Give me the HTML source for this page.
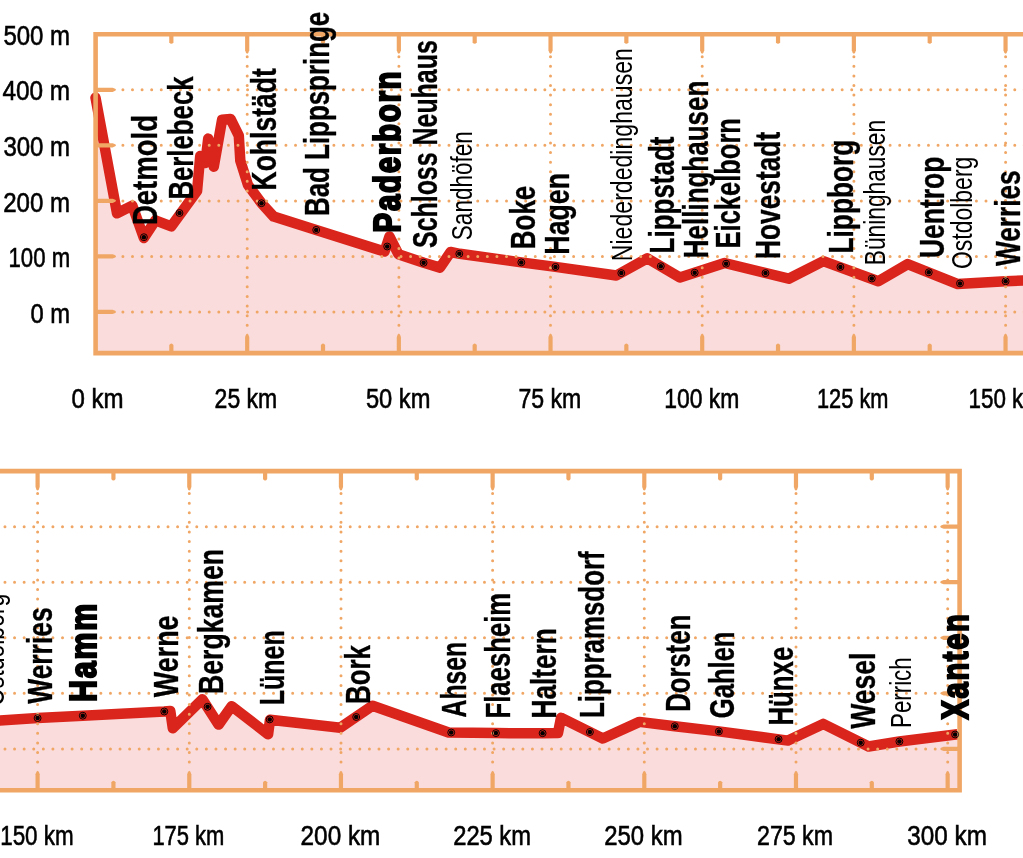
<!DOCTYPE html>
<html lang="de"><head><meta charset="utf-8"><title>Höhenprofil Römer-Lippe-Route</title>
<style>
html,body{margin:0;padding:0;background:#fff;}
body{width:1023px;height:858px;overflow:hidden;}
svg{display:block;}
text{font-family:"Liberation Sans",sans-serif;fill:#000;}
.ax{font-size:28.4px;stroke:#000;stroke-width:.6px;}
.r{font-size:34.8px;font-weight:bold;stroke:#000;stroke-width:0.35px;stroke-linejoin:round;}
.h{font-size:37.8px;font-weight:bold;stroke:#000;stroke-width:2.2px;stroke-linejoin:miter;letter-spacing:2.2px;vector-effect:non-scaling-stroke;}
.l{font-size:28.6px;font-weight:normal;}
.grid{stroke:#f0a766;stroke-width:3;stroke-linecap:round;stroke-dasharray:0 9.59;fill:none;}
.frame{stroke:#f0a766;stroke-width:4.6;fill:none;stroke-linejoin:miter;}
.ticks{fill:#f0a766;}
.curve{stroke:#da251c;stroke-width:10.5;fill:none;stroke-linejoin:round;stroke-linecap:round;}
.area{fill:#fadcdc;}
.mk circle.o{fill:none;stroke:#000;stroke-width:0.95;}
.mk circle.i{fill:#000;}
</style></head><body>
<svg width="1023" height="858" viewBox="0 0 1023 858">
<rect width="1023" height="858" fill="#fff"/>
<defs>
<clipPath id="ct"><rect x="95.6" y="34.2" width="937.4" height="318.90000000000003"/></clipPath>
<clipPath id="cb"><rect x="-10" y="471.1" width="969.6" height="319.1"/></clipPath>
<clipPath id="cbl"><rect x="-10" y="471.1" width="971.6" height="319.1"/></clipPath>
</defs>

<!-- top chart: 0-150 km -->
<polygon class="area" clip-path="url(#ct)" points="95.5,97.6 117.0,213.3 132.3,205.6 143.9,238.0 155.4,220.4 171.3,226.3 197.1,190.9 200.2,156.1 205.3,163.0 208.2,138.6 213.8,166.7 222.1,119.7 230.5,118.9 238.8,135.6 240.3,160.6 247.9,184.8 261.5,203.2 273.7,216.6 316.2,229.9 384.5,251.6 389.5,236.5 398.4,254.2 423.8,262.8 440.0,267.6 450.6,252.0 459.8,253.8 521.3,262.4 555.5,266.9 616.3,275.5 647.2,258.3 679.9,277.6 724.6,263.0 788.7,278.7 823.4,261.1 878.3,281.3 907.7,264.1 957.8,284.1 1005.6,281.3 1040.0,279.6 1040,353.1 95.6,353.1"/>
<polyline class="curve" points="95.5,97.6 117.0,213.3 132.3,205.6 143.9,238.0 155.4,220.4 171.3,226.3 197.1,190.9 200.2,156.1 205.3,163.0 208.2,138.6 213.8,166.7 222.1,119.7 230.5,118.9 238.8,135.6 240.3,160.6 247.9,184.8 261.5,203.2 273.7,216.6 316.2,229.9 384.5,251.6 389.5,236.5 398.4,254.2 423.8,262.8 440.0,267.6 450.6,252.0 459.8,253.8 521.3,262.4 555.5,266.9 616.3,275.5 647.2,258.3 679.9,277.6 724.6,263.0 788.7,278.7 823.4,261.1 878.3,281.3 907.7,264.1 957.8,284.1 1005.6,281.3 1040.0,279.6"/>
<g class="grid"><path d="M122.9,311.9 H1030"/><path d="M122.9,256.4 H1030"/><path d="M122.9,200.9 H1030"/><path d="M122.9,145.3 H1030"/><path d="M122.9,89.8 H1030"/><path d="M247.2,56.7 V333.1"/><path d="M398.9,56.7 V333.1"/><path d="M550.5,56.7 V333.1"/><path d="M702.2,56.7 V333.1"/><path d="M853.9,56.7 V333.1"/><path d="M1005.6,56.7 V333.1"/></g>
<path class="frame" d="M1030,34.2 H95.6 V353.1 H1030"/>
<g class="ticks"><path d="M95.60,309.80 L112.60,309.80 Q116.10,310.85 116.10,311.90 Q116.10,312.95 112.60,314.00 L95.60,314.00 Z"/><path d="M95.60,254.28 L112.60,254.28 Q116.10,255.33 116.10,256.38 Q116.10,257.43 112.60,258.48 L95.60,258.48 Z"/><path d="M95.60,198.76 L112.60,198.76 Q116.10,199.81 116.10,200.86 Q116.10,201.91 112.60,202.96 L95.60,202.96 Z"/><path d="M95.60,143.24 L112.60,143.24 Q116.10,144.29 116.10,145.34 Q116.10,146.39 112.60,147.44 L95.60,147.44 Z"/><path d="M95.60,87.72 L112.60,87.72 Q116.10,88.77 116.10,89.82 Q116.10,90.87 112.60,91.92 L95.60,91.92 Z"/><path d="M169.24,34.20 L169.24,42.20 Q170.08,43.70 171.34,43.70 Q172.60,43.70 173.44,42.20 L173.44,34.20 Z"/><path d="M169.24,353.10 L169.24,345.10 Q170.08,343.60 171.34,343.60 Q172.60,343.60 173.44,345.10 L173.44,353.10 Z"/><path d="M245.08,34.20 L245.08,50.20 Q245.92,53.70 247.18,53.70 Q248.44,53.70 249.28,50.20 L249.28,34.20 Z"/><path d="M245.08,353.10 L245.08,337.10 Q245.92,333.60 247.18,333.60 Q248.44,333.60 249.28,337.10 L249.28,353.10 Z"/><path d="M320.91,34.20 L320.91,42.20 Q321.75,43.70 323.01,43.70 Q324.27,43.70 325.11,42.20 L325.11,34.20 Z"/><path d="M320.91,353.10 L320.91,345.10 Q321.75,343.60 323.01,343.60 Q324.27,343.60 325.11,345.10 L325.11,353.10 Z"/><path d="M396.75,34.20 L396.75,50.20 Q397.59,53.70 398.85,53.70 Q400.11,53.70 400.95,50.20 L400.95,34.20 Z"/><path d="M396.75,353.10 L396.75,337.10 Q397.59,333.60 398.85,333.60 Q400.11,333.60 400.95,337.10 L400.95,353.10 Z"/><path d="M472.59,34.20 L472.59,42.20 Q473.43,43.70 474.69,43.70 Q475.95,43.70 476.79,42.20 L476.79,34.20 Z"/><path d="M472.59,353.10 L472.59,345.10 Q473.43,343.60 474.69,343.60 Q475.95,343.60 476.79,345.10 L476.79,353.10 Z"/><path d="M548.43,34.20 L548.43,50.20 Q549.27,53.70 550.53,53.70 Q551.79,53.70 552.63,50.20 L552.63,34.20 Z"/><path d="M548.43,353.10 L548.43,337.10 Q549.27,333.60 550.53,333.60 Q551.79,333.60 552.63,337.10 L552.63,353.10 Z"/><path d="M624.26,34.20 L624.26,42.20 Q625.10,43.70 626.36,43.70 Q627.62,43.70 628.46,42.20 L628.46,34.20 Z"/><path d="M624.26,353.10 L624.26,345.10 Q625.10,343.60 626.36,343.60 Q627.62,343.60 628.46,345.10 L628.46,353.10 Z"/><path d="M700.10,34.20 L700.10,50.20 Q700.94,53.70 702.20,53.70 Q703.46,53.70 704.30,50.20 L704.30,34.20 Z"/><path d="M700.10,353.10 L700.10,337.10 Q700.94,333.60 702.20,333.60 Q703.46,333.60 704.30,337.10 L704.30,353.10 Z"/><path d="M775.94,34.20 L775.94,42.20 Q776.78,43.70 778.04,43.70 Q779.30,43.70 780.14,42.20 L780.14,34.20 Z"/><path d="M775.94,353.10 L775.94,345.10 Q776.78,343.60 778.04,343.60 Q779.30,343.60 780.14,345.10 L780.14,353.10 Z"/><path d="M851.77,34.20 L851.77,50.20 Q852.62,53.70 853.88,53.70 Q855.13,53.70 855.98,50.20 L855.98,34.20 Z"/><path d="M851.77,353.10 L851.77,337.10 Q852.62,333.60 853.88,333.60 Q855.13,333.60 855.98,337.10 L855.98,353.10 Z"/><path d="M927.61,34.20 L927.61,42.20 Q928.45,43.70 929.71,43.70 Q930.97,43.70 931.81,42.20 L931.81,34.20 Z"/><path d="M927.61,353.10 L927.61,345.10 Q928.45,343.60 929.71,343.60 Q930.97,343.60 931.81,345.10 L931.81,353.10 Z"/><path d="M1003.45,34.20 L1003.45,50.20 Q1004.29,53.70 1005.55,53.70 Q1006.81,53.70 1007.65,50.20 L1007.65,34.20 Z"/><path d="M1003.45,353.10 L1003.45,337.10 Q1004.29,333.60 1005.55,333.60 Q1006.81,333.60 1007.65,337.10 L1007.65,353.10 Z"/></g>
<!-- bottom chart: 150-300 km -->
<polygon class="area" clip-path="url(#cb)" points="-20.0,721.8 37.6,718.1 82.8,715.7 164.3,711.5 170.3,710.9 172.8,728.2 202.4,699.3 218.6,724.6 231.6,706.2 268.1,734.3 270.0,719.8 340.3,727.7 372.6,705.7 448.6,732.5 495.9,733.1 542.6,733.2 558.0,733.1 561.0,717.8 602.8,738.5 639.4,721.9 674.8,726.2 718.9,731.4 788.0,740.6 823.2,723.9 868.6,746.5 899.4,741.5 957.5,734.3 959.6,790.2 -20,790.2"/>
<polyline class="curve" clip-path="url(#cbl)" style="stroke-linecap:butt" points="-20.0,721.8 37.6,718.1 82.8,715.7 164.3,711.5 170.3,710.9 172.8,728.2 202.4,699.3 218.6,724.6 231.6,706.2 268.1,734.3 270.0,719.8 340.3,727.7 372.6,705.7 448.6,732.5 495.9,733.1 542.6,733.2 558.0,733.1 561.0,717.8 602.8,738.5 639.4,721.9 674.8,726.2 718.9,731.4 788.0,740.6 823.2,723.9 868.6,746.5 899.4,741.5 957.5,734.3"/>
<g class="grid"><path d="M935.2,748.9 H-10"/><path d="M935.2,693.3 H-10"/><path d="M935.2,637.8 H-10"/><path d="M935.2,582.2 H-10"/><path d="M935.2,526.7 H-10"/><path d="M37.6,493.6 V770.2"/><path d="M189.3,493.6 V770.2"/><path d="M341.0,493.6 V770.2"/><path d="M492.6,493.6 V770.2"/><path d="M644.3,493.6 V770.2"/><path d="M796.0,493.6 V770.2"/><path d="M947.7,493.6 V770.2"/></g>
<path class="frame" d="M-10,471.1 H959.6 V790.2 H-10"/>
<g class="ticks"><path d="M959.60,746.80 L943.60,746.80 Q940.10,747.85 940.10,748.90 Q940.10,749.95 943.60,751.00 L959.60,751.00 Z"/><path d="M959.60,691.24 L943.60,691.24 Q940.10,692.29 940.10,693.34 Q940.10,694.39 943.60,695.44 L959.60,695.44 Z"/><path d="M959.60,635.68 L943.60,635.68 Q940.10,636.73 940.10,637.78 Q940.10,638.83 943.60,639.88 L959.60,639.88 Z"/><path d="M959.60,580.12 L943.60,580.12 Q940.10,581.17 940.10,582.22 Q940.10,583.27 943.60,584.32 L959.60,584.32 Z"/><path d="M959.60,524.56 L943.60,524.56 Q940.10,525.61 940.10,526.66 Q940.10,527.71 943.60,528.76 L959.60,528.76 Z"/><path d="M35.50,471.10 L35.50,487.10 Q36.34,490.60 37.60,490.60 Q38.86,490.60 39.70,487.10 L39.70,471.10 Z"/><path d="M35.50,790.20 L35.50,774.20 Q36.34,770.70 37.60,770.70 Q38.86,770.70 39.70,774.20 L39.70,790.20 Z"/><path d="M111.34,471.10 L111.34,479.10 Q112.18,480.60 113.44,480.60 Q114.70,480.60 115.54,479.10 L115.54,471.10 Z"/><path d="M111.34,790.20 L111.34,782.20 Q112.18,780.70 113.44,780.70 Q114.70,780.70 115.54,782.20 L115.54,790.20 Z"/><path d="M187.18,471.10 L187.18,487.10 Q188.02,490.60 189.28,490.60 Q190.53,490.60 191.38,487.10 L191.38,471.10 Z"/><path d="M187.18,790.20 L187.18,774.20 Q188.02,770.70 189.28,770.70 Q190.53,770.70 191.38,774.20 L191.38,790.20 Z"/><path d="M263.01,471.10 L263.01,479.10 Q263.85,480.60 265.11,480.60 Q266.37,480.60 267.21,479.10 L267.21,471.10 Z"/><path d="M263.01,790.20 L263.01,782.20 Q263.85,780.70 265.11,780.70 Q266.37,780.70 267.21,782.20 L267.21,790.20 Z"/><path d="M338.85,471.10 L338.85,487.10 Q339.69,490.60 340.95,490.60 Q342.21,490.60 343.05,487.10 L343.05,471.10 Z"/><path d="M338.85,790.20 L338.85,774.20 Q339.69,770.70 340.95,770.70 Q342.21,770.70 343.05,774.20 L343.05,790.20 Z"/><path d="M414.69,471.10 L414.69,479.10 Q415.53,480.60 416.79,480.60 Q418.05,480.60 418.89,479.10 L418.89,471.10 Z"/><path d="M414.69,790.20 L414.69,782.20 Q415.53,780.70 416.79,780.70 Q418.05,780.70 418.89,782.20 L418.89,790.20 Z"/><path d="M490.53,471.10 L490.53,487.10 Q491.37,490.60 492.63,490.60 Q493.89,490.60 494.73,487.10 L494.73,471.10 Z"/><path d="M490.53,790.20 L490.53,774.20 Q491.37,770.70 492.63,770.70 Q493.89,770.70 494.73,774.20 L494.73,790.20 Z"/><path d="M566.36,471.10 L566.36,479.10 Q567.20,480.60 568.46,480.60 Q569.72,480.60 570.56,479.10 L570.56,471.10 Z"/><path d="M566.36,790.20 L566.36,782.20 Q567.20,780.70 568.46,780.70 Q569.72,780.70 570.56,782.20 L570.56,790.20 Z"/><path d="M642.20,471.10 L642.20,487.10 Q643.04,490.60 644.30,490.60 Q645.56,490.60 646.40,487.10 L646.40,471.10 Z"/><path d="M642.20,790.20 L642.20,774.20 Q643.04,770.70 644.30,770.70 Q645.56,770.70 646.40,774.20 L646.40,790.20 Z"/><path d="M718.04,471.10 L718.04,479.10 Q718.88,480.60 720.14,480.60 Q721.40,480.60 722.24,479.10 L722.24,471.10 Z"/><path d="M718.04,790.20 L718.04,782.20 Q718.88,780.70 720.14,780.70 Q721.40,780.70 722.24,782.20 L722.24,790.20 Z"/><path d="M793.88,471.10 L793.88,487.10 Q794.72,490.60 795.98,490.60 Q797.24,490.60 798.08,487.10 L798.08,471.10 Z"/><path d="M793.88,790.20 L793.88,774.20 Q794.72,770.70 795.98,770.70 Q797.24,770.70 798.08,774.20 L798.08,790.20 Z"/><path d="M869.71,471.10 L869.71,479.10 Q870.55,480.60 871.81,480.60 Q873.07,480.60 873.91,479.10 L873.91,471.10 Z"/><path d="M869.71,790.20 L869.71,782.20 Q870.55,780.70 871.81,780.70 Q873.07,780.70 873.91,782.20 L873.91,790.20 Z"/><path d="M945.55,471.10 L945.55,487.10 Q946.39,490.60 947.65,490.60 Q948.91,490.60 949.75,487.10 L949.75,471.10 Z"/><path d="M945.55,790.20 L945.55,774.20 Q946.39,770.70 947.65,770.70 Q948.91,770.70 949.75,774.20 L949.75,790.20 Z"/></g>
<g class="mk"><circle class="o" cx="143.9" cy="237.2" r="3.45"/><circle class="i" cx="143.9" cy="237.2" r="2.25"/><circle class="o" cx="179.5" cy="213.0" r="3.45"/><circle class="i" cx="179.5" cy="213.0" r="2.25"/><circle class="o" cx="261.5" cy="203.2" r="3.45"/><circle class="i" cx="261.5" cy="203.2" r="2.25"/><circle class="o" cx="316.2" cy="229.9" r="3.45"/><circle class="i" cx="316.2" cy="229.9" r="2.25"/><circle class="o" cx="387.2" cy="246.5" r="3.45"/><circle class="i" cx="387.2" cy="246.5" r="2.25"/><circle class="o" cx="423.6" cy="262.8" r="3.45"/><circle class="i" cx="423.6" cy="262.8" r="2.25"/><circle class="o" cx="459.3" cy="253.8" r="3.45"/><circle class="i" cx="459.3" cy="253.8" r="2.25"/><circle class="o" cx="521.3" cy="262.4" r="3.45"/><circle class="i" cx="521.3" cy="262.4" r="2.25"/><circle class="o" cx="555.5" cy="266.9" r="3.45"/><circle class="i" cx="555.5" cy="266.9" r="2.25"/><circle class="o" cx="621.3" cy="273.1" r="3.45"/><circle class="i" cx="621.3" cy="273.1" r="2.25"/><circle class="o" cx="660.8" cy="266.2" r="3.45"/><circle class="i" cx="660.8" cy="266.2" r="2.25"/><circle class="o" cx="694.7" cy="272.7" r="3.45"/><circle class="i" cx="694.7" cy="272.7" r="2.25"/><circle class="o" cx="726.1" cy="263.7" r="3.45"/><circle class="i" cx="726.1" cy="263.7" r="2.25"/><circle class="o" cx="765.5" cy="273.1" r="3.45"/><circle class="i" cx="765.5" cy="273.1" r="2.25"/><circle class="o" cx="840.4" cy="266.9" r="3.45"/><circle class="i" cx="840.4" cy="266.9" r="2.25"/><circle class="o" cx="871.8" cy="278.5" r="3.45"/><circle class="i" cx="871.8" cy="278.5" r="2.25"/><circle class="o" cx="928.8" cy="272.3" r="3.45"/><circle class="i" cx="928.8" cy="272.3" r="2.25"/><circle class="o" cx="960.0" cy="283.4" r="3.45"/><circle class="i" cx="960.0" cy="283.4" r="2.25"/><circle class="o" cx="1005.6" cy="281.3" r="3.45"/><circle class="i" cx="1005.6" cy="281.3" r="2.25"/><circle class="o" cx="37.6" cy="718.1" r="3.45"/><circle class="i" cx="37.6" cy="718.1" r="2.25"/><circle class="o" cx="82.8" cy="715.7" r="3.45"/><circle class="i" cx="82.8" cy="715.7" r="2.25"/><circle class="o" cx="164.3" cy="711.5" r="3.45"/><circle class="i" cx="164.3" cy="711.5" r="2.25"/><circle class="o" cx="207.6" cy="706.8" r="3.45"/><circle class="i" cx="207.6" cy="706.8" r="2.25"/><circle class="o" cx="269.7" cy="719.4" r="3.45"/><circle class="i" cx="269.7" cy="719.4" r="2.25"/><circle class="o" cx="356.2" cy="717.0" r="3.45"/><circle class="i" cx="356.2" cy="717.0" r="2.25"/><circle class="o" cx="451.2" cy="732.5" r="3.45"/><circle class="i" cx="451.2" cy="732.5" r="2.25"/><circle class="o" cx="495.9" cy="733.1" r="3.45"/><circle class="i" cx="495.9" cy="733.1" r="2.25"/><circle class="o" cx="542.6" cy="733.2" r="3.45"/><circle class="i" cx="542.6" cy="733.2" r="2.25"/><circle class="o" cx="589.9" cy="732.0" r="3.45"/><circle class="i" cx="589.9" cy="732.0" r="2.25"/><circle class="o" cx="674.8" cy="726.2" r="3.45"/><circle class="i" cx="674.8" cy="726.2" r="2.25"/><circle class="o" cx="718.9" cy="731.4" r="3.45"/><circle class="i" cx="718.9" cy="731.4" r="2.25"/><circle class="o" cx="778.6" cy="739.2" r="3.45"/><circle class="i" cx="778.6" cy="739.2" r="2.25"/><circle class="o" cx="860.7" cy="742.7" r="3.45"/><circle class="i" cx="860.7" cy="742.7" r="2.25"/><circle class="o" cx="899.4" cy="741.5" r="3.45"/><circle class="i" cx="899.4" cy="741.5" r="2.25"/><circle class="o" cx="955.1" cy="734.5" r="3.45"/><circle class="i" cx="955.1" cy="734.5" r="2.25"/></g>
<g class="ax">
<text x="3.4" y="44.9" textLength="66.7" lengthAdjust="spacingAndGlyphs">500 m</text>
<text x="2.4" y="100.4" textLength="67.7" lengthAdjust="spacingAndGlyphs">400 m</text>
<text x="3.4" y="155.9" textLength="66.7" lengthAdjust="spacingAndGlyphs">300 m</text>
<text x="3.2" y="211.5" textLength="66.9" lengthAdjust="spacingAndGlyphs">200 m</text>
<text x="8.5" y="267.0" textLength="61.6" lengthAdjust="spacingAndGlyphs">100 m</text>
<text x="30.5" y="322.5" textLength="39.6" lengthAdjust="spacingAndGlyphs">0 m</text>
<text x="71.5" y="408.2" textLength="52.1" lengthAdjust="spacingAndGlyphs">0 km</text>
<text x="214.6" y="408.2" textLength="62.6" lengthAdjust="spacingAndGlyphs">25 km</text>
<text x="365.9" y="408.2" textLength="64.5" lengthAdjust="spacingAndGlyphs">50 km</text>
<text x="518.4" y="408.2" textLength="62.9" lengthAdjust="spacingAndGlyphs">75 km</text>
<text x="664.2" y="408.2" textLength="75.1" lengthAdjust="spacingAndGlyphs">100 km</text>
<text x="817.0" y="408.2" textLength="71.5" lengthAdjust="spacingAndGlyphs">125 km</text>
<text x="968.5" y="408.2" textLength="73.5" lengthAdjust="spacingAndGlyphs">150 km</text>
<text x="0.2" y="845.2" textLength="73.5" lengthAdjust="spacingAndGlyphs">150 km</text>
<text x="152.4" y="845.2" textLength="72.0" lengthAdjust="spacingAndGlyphs">175 km</text>
<text x="300.6" y="845.2" textLength="79.7" lengthAdjust="spacingAndGlyphs">200 km</text>
<text x="453.2" y="845.2" textLength="77.8" lengthAdjust="spacingAndGlyphs">225 km</text>
<text x="604.2" y="845.2" textLength="78.4" lengthAdjust="spacingAndGlyphs">250 km</text>
<text x="757.0" y="845.2" textLength="76.0" lengthAdjust="spacingAndGlyphs">275 km</text>
<text x="907.3" y="845.2" textLength="79.6" lengthAdjust="spacingAndGlyphs">300 km</text>
</g>
<g>
<text class="r" transform="translate(157.4,225.1) rotate(-90)" textLength="110.1" lengthAdjust="spacingAndGlyphs">Detmold</text>
<text class="r" transform="translate(192.7,199.6) rotate(-90)" textLength="123.2" lengthAdjust="spacingAndGlyphs">Berlebeck</text>
<text class="r" transform="translate(276.3,190.5) rotate(-90)" textLength="122.3" lengthAdjust="spacingAndGlyphs">Kohlstädt</text>
<text class="r" transform="translate(328.9,216.0) rotate(-90)" textLength="204.2" lengthAdjust="spacingAndGlyphs">Bad Lippspringe</text>
<text class="h" transform="translate(400.1,232.4) rotate(-90)" textLength="162.7" lengthAdjust="spacingAndGlyphs">Paderborn</text>
<text class="r" transform="translate(436.8,248.0) rotate(-90)" textLength="207.8" lengthAdjust="spacingAndGlyphs">Schloss Neuhaus</text>
<text class="l" transform="translate(471.5,240.2) rotate(-90)" textLength="109.1" lengthAdjust="spacingAndGlyphs">Sandhöfen</text>
<text class="r" transform="translate(535.0,249.2) rotate(-90)" textLength="63.5" lengthAdjust="spacingAndGlyphs">Boke</text>
<text class="r" transform="translate(569.2,254.7) rotate(-90)" textLength="81.8" lengthAdjust="spacingAndGlyphs">Hagen</text>
<text class="l" transform="translate(632.4,261.2) rotate(-90)" textLength="213.1" lengthAdjust="spacingAndGlyphs">Niederdedinghausen</text>
<text class="r" transform="translate(673.8,253.4) rotate(-90)" textLength="116.9" lengthAdjust="spacingAndGlyphs">Lippstadt</text>
<text class="r" transform="translate(708.3,258.2) rotate(-90)" textLength="177.5" lengthAdjust="spacingAndGlyphs">Hellinghausen</text>
<text class="r" transform="translate(740.1,248.4) rotate(-90)" textLength="130.3" lengthAdjust="spacingAndGlyphs">Eickelborn</text>
<text class="r" transform="translate(780.4,259.0) rotate(-90)" textLength="127.2" lengthAdjust="spacingAndGlyphs">Hovestadt</text>
<text class="r" transform="translate(853.0,253.5) rotate(-90)" textLength="113.9" lengthAdjust="spacingAndGlyphs">Lippborg</text>
<text class="l" transform="translate(884.5,265.2) rotate(-90)" textLength="145.3" lengthAdjust="spacingAndGlyphs">Büninghausen</text>
<text class="r" transform="translate(943.8,258.0) rotate(-90)" textLength="101.4" lengthAdjust="spacingAndGlyphs">Uentrop</text>
<text class="l" transform="translate(972.2,269.0) rotate(-90)" textLength="112.3" lengthAdjust="spacingAndGlyphs">Ostdolberg</text>
<text class="r" transform="translate(1020.4,266.0) rotate(-90)" textLength="95.6" lengthAdjust="spacingAndGlyphs">Werries</text>
<text class="l" transform="translate(4.0,706.0) rotate(-90)" textLength="112.3" lengthAdjust="spacingAndGlyphs">Ostdolberg</text>
<text class="r" transform="translate(52.4,703.8) rotate(-90)" textLength="96.4" lengthAdjust="spacingAndGlyphs">Werries</text>
<text class="h" transform="translate(95.9,702.0) rotate(-90)" textLength="100.1" lengthAdjust="spacingAndGlyphs">Hamm</text>
<text class="r" transform="translate(178.3,697.2) rotate(-90)" textLength="81.8" lengthAdjust="spacingAndGlyphs">Werne</text>
<text class="r" transform="translate(222.6,694.0) rotate(-90)" textLength="145.1" lengthAdjust="spacingAndGlyphs">Bergkamen</text>
<text class="r" transform="translate(284.1,705.3) rotate(-90)" textLength="75.1" lengthAdjust="spacingAndGlyphs">Lünen</text>
<text class="r" transform="translate(370.0,703.9) rotate(-90)" textLength="58.9" lengthAdjust="spacingAndGlyphs">Bork</text>
<text class="r" transform="translate(465.5,717.4) rotate(-90)" textLength="75.6" lengthAdjust="spacingAndGlyphs">Ahsen</text>
<text class="r" transform="translate(510.3,718.5) rotate(-90)" textLength="125.7" lengthAdjust="spacingAndGlyphs">Flaesheim</text>
<text class="r" transform="translate(556.3,718.5) rotate(-90)" textLength="90.3" lengthAdjust="spacingAndGlyphs">Haltern</text>
<text class="r" transform="translate(603.6,718.0) rotate(-90)" textLength="166.6" lengthAdjust="spacingAndGlyphs">Lippramsdorf</text>
<text class="r" transform="translate(689.7,711.7) rotate(-90)" textLength="97.1" lengthAdjust="spacingAndGlyphs">Dorsten</text>
<text class="r" transform="translate(733.9,718.2) rotate(-90)" textLength="86.7" lengthAdjust="spacingAndGlyphs">Gahlen</text>
<text class="r" transform="translate(792.6,725.6) rotate(-90)" textLength="78.9" lengthAdjust="spacingAndGlyphs">Hünxe</text>
<text class="r" transform="translate(875.1,728.8) rotate(-90)" textLength="76.2" lengthAdjust="spacingAndGlyphs">Wesel</text>
<text class="l" transform="translate(911.1,727.9) rotate(-90)" textLength="70.5" lengthAdjust="spacingAndGlyphs">Perrich</text>
<text class="h" transform="translate(968.2,719.6) rotate(-90)" textLength="107.2" lengthAdjust="spacingAndGlyphs">Xanten</text>
</g>
</svg></body></html>
